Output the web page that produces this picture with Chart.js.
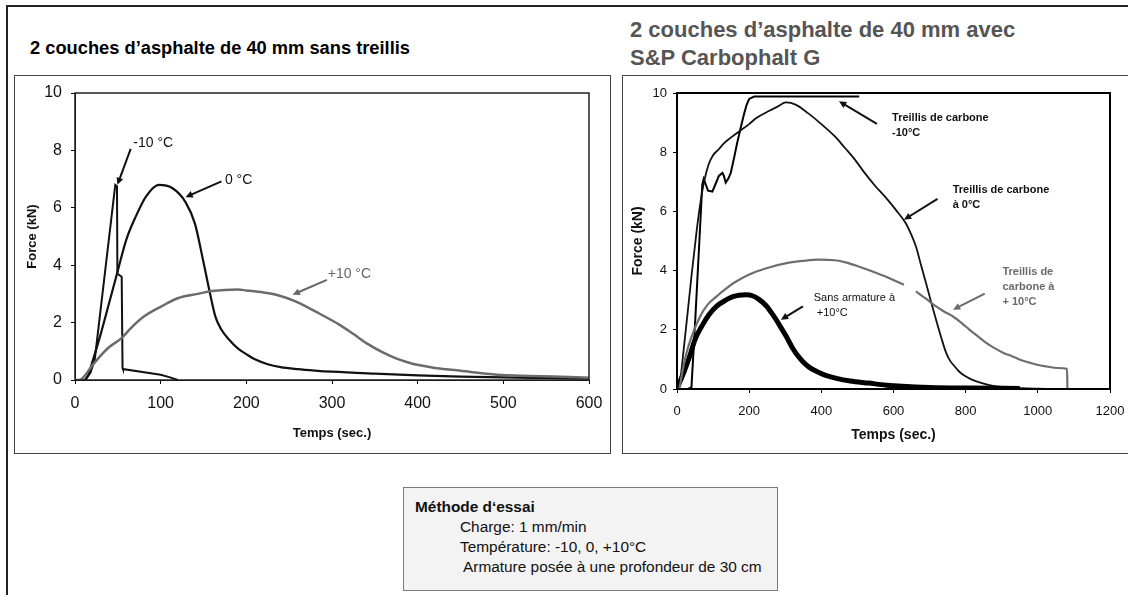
<!DOCTYPE html>
<html lang="fr">
<head>
<meta charset="utf-8">
<title>Force en fonction du temps</title>
<script src="https://cdn.jsdelivr.net/npm/chart.js@4.4.1/dist/chart.umd.min.js"></script>
<style>
    body { margin: 0; background: #fff; font-family: "Liberation Sans", Arial, sans-serif; }
    #page { position: relative; width: 1128px; height: 595px; overflow: hidden; background: #fff; }
    .frame { position: absolute; left: 6px; top: 5px; width: 1140px; height: 620px;
             border-top: 2px solid #222; border-left: 2px solid #222; }
    .box { position: absolute; top: 75px; height: 377px; border: 1px solid #444; background: #fff; }
    #boxLeft { left: 14px; width: 595px; }
    #boxRight { left: 622px; width: 530px; }
    .title { position: absolute; font-weight: bold; white-space: nowrap; }
    #titleLeft { left: 30px; top: 37px; font-size: 18.3px; color: #000; }
    #titleRight { left: 630px; top: 16px; font-size: 22px; line-height: 28px; color: #555; }
    canvas { position: absolute; }
    #chartLeft { left: 14px; top: 75px; }
    #chartRight { left: 622px; top: 75px; }
    #methode { position: absolute; left: 403px; top: 487px; width: 373px; height: 102px;
               background: #f3f3f3; border: 1px solid #7a7a7a; font-size: 15.4px; line-height: 20px; color: #111; }
    #methode div { white-space: nowrap; }
</style>
</head>
<body>
<div id="page">
    <div class="frame"></div>
    <div class="title" id="titleLeft">2 couches d’asphalte de 40 mm sans treillis</div>
    <div class="title" id="titleRight">2 couches d’asphalte de 40 mm avec<br>S&amp;P Carbophalt G</div>
    <div class="box" id="boxLeft"></div>
    <div class="box" id="boxRight"></div>
    <canvas id="chartLeft" width="595" height="378"></canvas>
    <canvas id="chartRight" width="506" height="378"></canvas>
    <div id="methode">
        <div style="margin:9px 0 0 11px;font-weight:bold">Méthode d‘essai</div>
        <div style="margin-left:56px">Charge: 1 mm/min</div>
        <div style="margin-left:56px">Température: -10, 0, +10°C</div>
        <div style="margin-left:59px">Armature posée à une profondeur de 30 cm</div>
    </div>
</div>

<script>
// ---- donnees : temps (s) / force (kN) ----

// gauche : sans treillis
const tempsM10 = [0, 12, 18, 23, 47, 49, 49.5, 54.5, 55.5, 56, 100, 110, 120];
const forceM10 = [0, 0, 0.25, 0.7, 6.8, 6.75, 3.7, 3.6, 0.42, 0.38, 0.18, 0.1, 0];

const temps0 = [0, 10, 15, 21, 30, 40, 49, 60, 71, 83, 98, 113, 129, 140, 150, 157, 164, 171, 180, 190, 200, 210, 225, 240, 260, 280, 300, 350, 400, 450, 500, 550, 600];
const force0 = [0, 0, 0.15, 0.7, 1.6, 2.7, 3.7, 4.9, 5.7, 6.4, 6.8, 6.7, 6.2, 5.45, 4.1, 3.1, 2.2, 1.75, 1.4, 1.1, 0.9, 0.72, 0.55, 0.45, 0.38, 0.33, 0.29, 0.22, 0.16, 0.12, 0.09, 0.07, 0.05];

const tempsP10 = [0, 5, 10, 20, 30, 40, 54, 65, 80, 100, 120, 143, 160, 175, 190, 200, 220, 235, 258, 281, 309, 325, 342, 360, 374, 390, 401, 420, 443, 470, 498, 530, 558, 600];
const forceP10 = [0, 0, 0.1, 0.5, 0.85, 1.15, 1.45, 1.8, 2.2, 2.55, 2.85, 3.0, 3.1, 3.14, 3.15, 3.12, 3.05, 2.97, 2.73, 2.38, 1.92, 1.6, 1.25, 0.95, 0.76, 0.6, 0.52, 0.42, 0.35, 0.25, 0.17, 0.14, 0.12, 0.08];

// droite : avec S&P Carbophalt G
const tempsCarbM10 = [0, 30, 40, 50, 62, 70, 74, 80, 86, 98, 106, 116, 126, 130, 135, 142, 149, 158, 167, 176, 186, 193, 200, 214, 350, 505];
const forceCarbM10 = [0, 0, 0.05, 2.2, 5.0, 6.9, 7.1, 6.9, 6.7, 6.67, 6.9, 7.2, 7.3, 7.2, 6.97, 7.1, 7.3, 7.8, 8.33, 8.8, 9.3, 9.6, 9.8, 9.88, 9.88, 9.88];

const tempsCarb0 = [0, 5, 20, 40, 55, 65, 75, 88, 100, 116, 130, 150, 172, 200, 219, 256, 280, 302, 330, 363, 400, 437, 465, 493, 520, 550, 580, 606, 634, 648, 662, 676, 690, 704, 718, 732, 746, 757, 769, 781, 793, 810, 830, 860, 886, 920, 951, 1000, 1030];
const forceCarb0 = [0, 0.05, 1.5, 3.8, 5.4, 6.3, 7.0, 7.6, 7.9, 8.1, 8.3, 8.5, 8.7, 8.95, 9.15, 9.4, 9.55, 9.68, 9.6, 9.32, 8.95, 8.54, 8.15, 7.75, 7.3, 6.85, 6.45, 6.06, 5.6, 5.25, 4.82, 4.2, 3.58, 2.95, 2.34, 1.75, 1.22, 0.95, 0.77, 0.6, 0.48, 0.36, 0.26, 0.15, 0.09, 0.05, 0.03, 0.01, 0];

const tempsCarbP10 = [0, 5, 15, 26, 40, 64, 85, 110, 135, 157, 200, 250, 307, 350, 391, 437, 470, 503, 540, 578, 610, 629, 645, 662, 690, 718, 740, 765, 790, 811, 835, 858, 880, 905, 930, 951, 975, 998, 1025, 1054, 1081, 1082];
const forceCarbP10 = [0, 0, 0.6, 1.2, 1.75, 2.45, 2.85, 3.13, 3.38, 3.58, 3.87, 4.09, 4.26, 4.33, 4.37, 4.35, 4.27, 4.14, 3.98, 3.8, 3.62, 3.52, null, 3.3, 3.05, 2.79, 2.62, 2.45, 2.22, 2.0, 1.77, 1.55, 1.38, 1.22, 1.1, 0.99, 0.9, 0.82, 0.76, 0.71, 0.68, 0];

const tempsSans = [0, 10, 20, 33, 51, 70, 88, 110, 135, 155, 172, 190, 209, 228, 246, 265, 284, 303, 321, 335, 349, 367, 386, 410, 442, 480, 531, 580, 624, 700, 800, 950];
const forceSans = [0, 0.3, 0.6, 1.03, 1.7, 2.15, 2.5, 2.8, 3.0, 3.12, 3.17, 3.18, 3.15, 3.02, 2.83, 2.52, 2.16, 1.77, 1.37, 1.12, 0.92, 0.73, 0.6, 0.47, 0.36, 0.27, 0.2, 0.13, 0.09, 0.05, 0.03, 0.02];

// graduations
const ticksXGauche = [0, 100, 200, 300, 400, 500, 600];
const ticksXDroite = [0, 200, 400, 600, 800, 1000, 1200];
const ticksY = [0, 2, 4, 6, 8, 10];

// etiquettes + fleches (en unites du graphique : temps, force)
const notesGauche = [
    { lines: ['-10 °C'], at: [68, 8.26], from: [65, 8.05], to: [49.5, 6.8], color: '#111' },
    { lines: ['0 °C'], at: [175, 6.98], from: [171, 6.92], to: [129, 6.37], color: '#111' },
    { lines: ['+10 °C'], at: [295, 3.7], from: [294, 3.49], to: [254, 2.97], color: '#666' }
];
const notesDroite = [
    { lines: ['Treillis de carbone', '-10°C'], at: [596, 9.16], from: [554, 8.96], to: [449, 9.72], color: '#111', bold: true },
    { lines: ['Treillis de carbone', 'à 0°C'], at: [764, 6.73], from: [722, 6.42], to: [629, 5.72], color: '#111', bold: true },
    { lines: ['Treillis de', 'carbone à', '+ 10°C'], at: [902, 3.94], from: [853, 3.22], to: [765, 2.68], color: '#6a6a6a', bold: true },
    { lines: ['Sans armature à', ' +10°C'], at: [379, 3.07], from: [349, 2.79], to: [288, 2.34], color: '#111', bold: false }
];


function toPoints(temps, force) {
    return temps.map((t, i) => ({ x: t, y: force[i] }));
}

// cadre noir autour de la zone de trace
const cadrePlugin = {
    id: 'cadre',
    afterDatasetsDraw(chart, args, opts) {
        const a = chart.chartArea;
        const ctx = chart.ctx;
        ctx.save();
        ctx.strokeStyle = opts.color;
        ctx.lineWidth = opts.width;
        ctx.strokeRect(a.left, a.top, a.right - a.left, a.bottom - a.top);
        ctx.restore();
    }
};

// fleches et textes d'annotation
const notesPlugin = {
    id: 'notes',
    afterDraw(chart, args, opts) {
        const ctx = chart.ctx;
        const xs = chart.scales.x, ys = chart.scales.y;
        opts.items.forEach(n => {
            const x1 = xs.getPixelForValue(n.from[0]), y1 = ys.getPixelForValue(n.from[1]);
            const x2 = xs.getPixelForValue(n.to[0]), y2 = ys.getPixelForValue(n.to[1]);
            const ang = Math.atan2(y2 - y1, x2 - x1);
            const head = 8;
            ctx.save();
            ctx.strokeStyle = n.color;
            ctx.fillStyle = n.color;
            ctx.lineWidth = 2;
            ctx.beginPath();
            ctx.moveTo(x1, y1);
            ctx.lineTo(x2 - head * 0.7 * Math.cos(ang), y2 - head * 0.7 * Math.sin(ang));
            ctx.stroke();
            ctx.beginPath();
            ctx.moveTo(x2, y2);
            ctx.lineTo(x2 - head * Math.cos(ang - 0.45), y2 - head * Math.sin(ang - 0.45));
            ctx.lineTo(x2 - head * Math.cos(ang + 0.45), y2 - head * Math.sin(ang + 0.45));
            ctx.closePath();
            ctx.fill();

            ctx.font = (n.bold ? 'bold ' : '') + opts.size + 'px "Liberation Sans", Arial, sans-serif';
            ctx.textAlign = 'left';
            ctx.textBaseline = 'middle';
            const tx = xs.getPixelForValue(n.at[0]);
            const ty = ys.getPixelForValue(n.at[1]);
            n.lines.forEach((line, i) => ctx.fillText(line, tx, ty + i * opts.lineHeight));
            ctx.restore();
        });
    }
};

function ligne(points, color, width, smooth) {
    return {
        data: points,
        borderColor: color,
        borderWidth: width,
        pointRadius: 0,
        fill: false,
        tension: smooth ? 0.4 : 0,
        cubicInterpolationMode: smooth ? 'monotone' : 'default',
        spanGaps: false
    };
}

function makeChart(canvasId, cfg) {
    const font = '"Liberation Sans", Arial, sans-serif';
    return new Chart(document.getElementById(canvasId), {
        type: 'line',
        data: { datasets: cfg.datasets },
        options: {
            responsive: false,
            animation: false,
            events: [],
            layout: { padding: { left: 0, right: cfg.padRight, top: 18, bottom: 0 } },
            plugins: {
                legend: { display: false },
                tooltip: { enabled: false },
                cadre: { color: cfg.frameColor, width: cfg.frameWidth },
                notes: { items: cfg.notes, size: cfg.noteSize, lineHeight: cfg.noteLineHeight }
            },
            scales: {
                x: {
                    type: 'linear',
                    min: 0,
                    max: cfg.xTicks[cfg.xTicks.length - 1],
                    afterBuildTicks: s => { s.ticks = cfg.xTicks.map(v => ({ value: v })); },
                    // taille fixe, sans marge supplementaire pour les etiquettes
                    afterFit: s => { s.height = cfg.xHeight; s.paddingLeft = 0; s.paddingRight = 0; },
                    grid: { drawOnChartArea: false, tickLength: 4, color: '#000' },
                    border: { color: '#000', width: 1 },
                    ticks: { color: '#111', font: { family: font, size: cfg.tickSize }, padding: cfg.xTickPad,
                             maxRotation: 0, callback: v => String(v) },
                    title: { display: true, text: 'Temps (sec.)', color: '#111',
                             font: { family: font, size: cfg.titleSize, weight: 'bold' }, padding: { top: 0, bottom: cfg.xTitlePad } }
                },
                y: {
                    min: 0,
                    max: 10,
                    afterBuildTicks: s => { s.ticks = ticksY.map(v => ({ value: v })); },
                    afterFit: s => { s.width = cfg.yWidth; s.paddingTop = 0; s.paddingBottom = 0; },
                    grid: { drawOnChartArea: false, tickLength: 4, color: '#000' },
                    border: { color: '#000', width: 1 },
                    ticks: { color: '#111', font: { family: font, size: cfg.tickSize }, padding: cfg.yTickPad,
                             callback: v => String(v) },
                    title: { display: true, text: 'Force (kN)', color: '#111',
                             font: { family: font, size: cfg.titleSize, weight: 'bold' }, padding: { top: cfg.yTitlePad, bottom: 0 } }
                }
            }
        },
        plugins: [cadrePlugin, notesPlugin]
    });
}

makeChart('chartLeft', {
    datasets: [
        ligne(toPoints(tempsP10, forceP10), '#6b6b6b', 2.5, true),
        ligne(toPoints(temps0, force0), '#111', 2.2, true),
        ligne(toPoints(tempsM10, forceM10), '#111', 2, false)
    ],
    xTicks: ticksXGauche,
    padRight: 20,
    xHeight: 73,
    yWidth: 61,
    tickSize: 16,
    titleSize: 13,
    xTickPad: 10,
    yTickPad: 9,
    xTitlePad: 12,
    yTitlePad: 11,
    frameColor: '#222',
    frameWidth: 1.5,
    notes: notesGauche,
    noteSize: 14,
    noteLineHeight: 15
});

makeChart('chartRight', {
    datasets: [
        ligne(toPoints(tempsCarbP10, forceCarbP10), '#6e6e6e', 2.2, true),
        ligne(toPoints(tempsSans, forceSans), '#000', 5, true),
        ligne(toPoints(tempsCarb0, forceCarb0), '#111', 1.8, true),
        ligne(toPoints(tempsCarbM10, forceCarbM10), '#000', 2, false)
    ],
    xTicks: ticksXDroite,
    padRight: 18,
    xHeight: 64,
    yWidth: 55,
    tickSize: 13,
    titleSize: 14,
    xTickPad: 11,
    yTickPad: 6,
    xTitlePad: 9,
    yTitlePad: 8,
    frameColor: '#000',
    frameWidth: 2,
    notes: notesDroite,
    noteSize: 11,
    noteLineHeight: 15
});
</script>
</body>
</html>
